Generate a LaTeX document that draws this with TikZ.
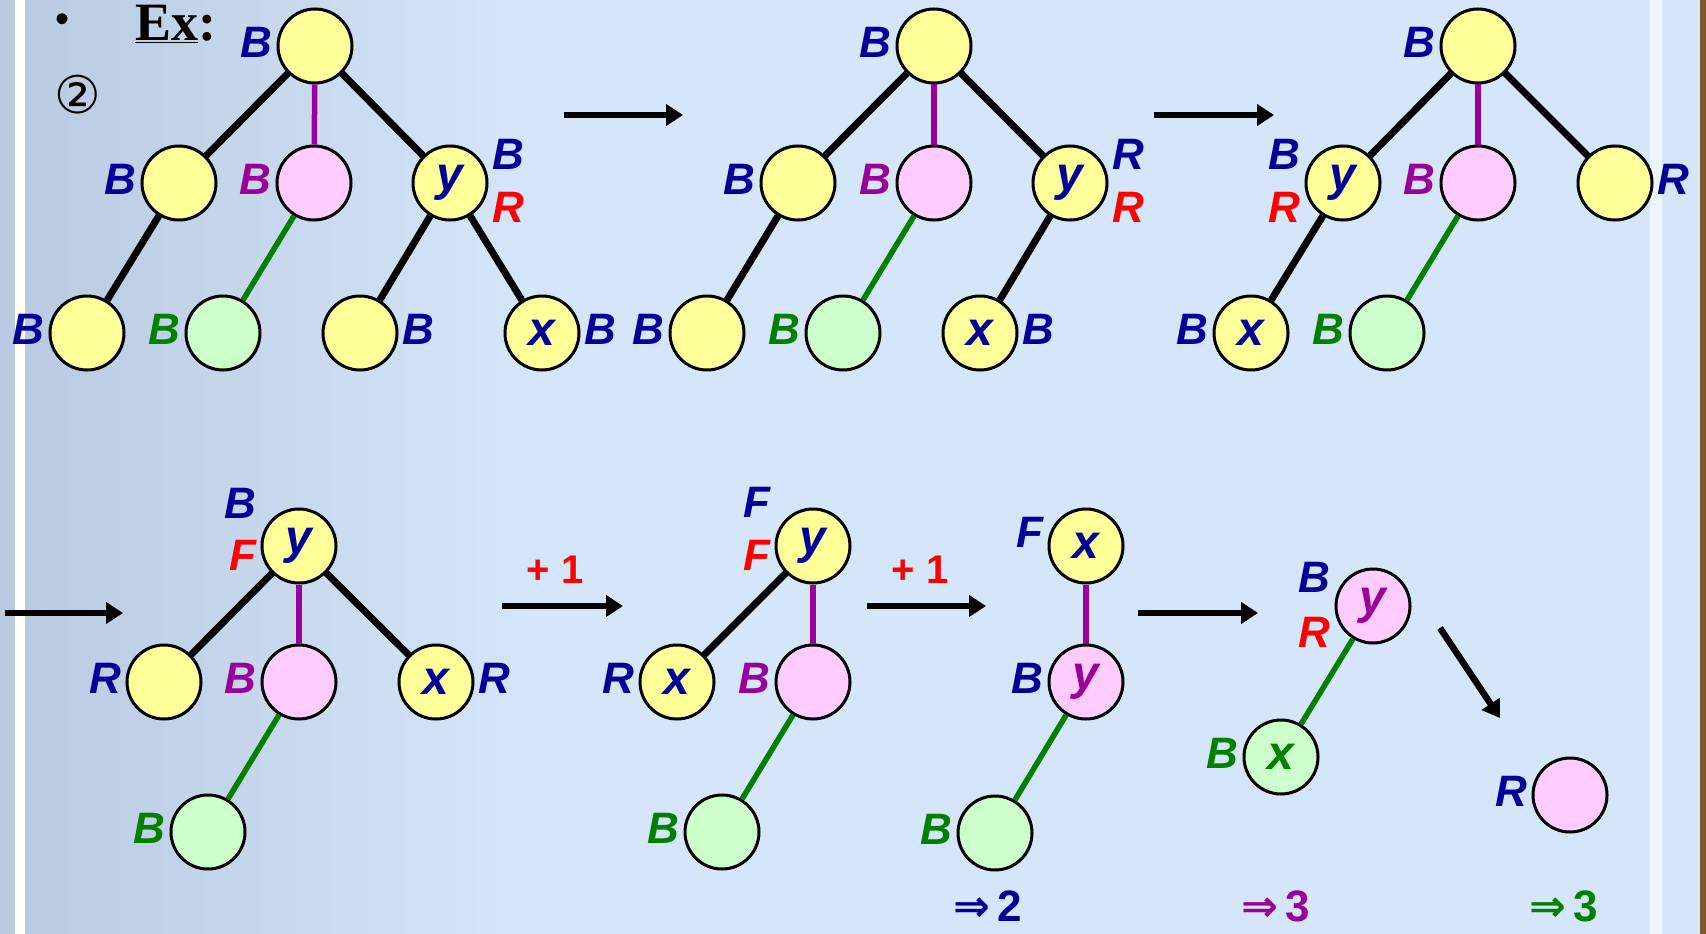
\documentclass[tikz,border=0pt]{standalone}
\usepackage{fontspec}
\setmainfont{Liberation Sans}
\newfontfamily\tiempos{Liberation Serif}
\newfontfamily\simbolos{DejaVu Sans}
\usepackage{tikz}
\usetikzlibrary{positioning,arrows.meta}
\definecolor{fondo}{RGB}{213,229,250}
\definecolor{columna}{RGB}{184,202,224}
\definecolor{amarillo}{RGB}{255,255,153}
\definecolor{rosado}{RGB}{255,204,255}
\definecolor{verdeclaro}{RGB}{204,255,204}
\definecolor{azul}{RGB}{0,0,153}
\definecolor{rojo}{RGB}{255,0,0}
\definecolor{morado}{RGB}{153,0,153}
\definecolor{verde}{RGB}{0,128,0}
\definecolor{marco}{RGB}{122,90,40}

\begin{document}
\begin{tikzpicture}[x=1pt, y=-1pt, label distance=4pt,
    nodo/.style={circle, draw=black, line width=3pt, minimum size=74pt, inner sep=0pt,
                 font=\fontsize{48}{48}\selectfont\bfseries\itshape, text=azul},
    nodoam/.style={nodo, fill=amarillo},
    nodoro/.style={nodo, fill=rosado},
    nodove/.style={nodo, fill=verdeclaro},
    etq/.style={inner sep=0pt, yshift=4pt, text=#1,
                font=\fontsize{44}{44}\selectfont\bfseries\itshape},
    negra/.style={line width=7pt},
    lila/.style={line width=5.5pt, draw=morado},
    verd/.style={line width=5.5pt, draw=verde},
    flecha/.style={-{Triangle[length=17pt,width=21pt]}, line width=6.5pt},
    mas/.style={text=rojo, font=\fontsize{40}{40}\selectfont\bfseries},
    total/.style={text=#1, inner sep=0pt, font=\fontsize{44}{44}\selectfont\bfseries}]
  \useasboundingbox (0,0) rectangle (1706,934);
  % fondo de la diapositiva
  \fill[fondo] (0,0) rectangle (1706,934);
  \shade[left color=columna, right color=fondo] (0,0) rectangle (520,934);
  \fill[white] (15,0) rectangle (25,934);
  \fill[white!60!fondo] (1650,0) rectangle (1662,934);
  \fill[marco] (1700,0) rectangle (1706,934);
  % encabezado
  \node (punto) at (63,23) {\fontsize{40}{40}\selectfont •};
  \node[anchor=base west, inner sep=0pt] (ej) at (135,41)
       {\tiempos\fontsize{54}{54}\selectfont\bfseries\underline{Ex}:};
  \node (dos) at (78,95) {\simbolos\fontsize{52}{52}\selectfont ②};
  % arbol 1
  \node[nodoam, label={[etq=azul]left:B}] (r1) at (315,46) {};
  \node[nodoam, label={[etq=azul]left:B}] (l1) at (179,183) {};
  \node[nodoro, label={[etq=morado]left:B}] (p1) at (314,183) {};
  \node[nodoam, label={[etq=azul, yshift=25pt]right:B},
        label={[etq=rojo, yshift=-28pt]right:R}] (y1) at (450,183) {y};
  \node[nodoam, label={[etq=azul]left:B}] (ll1) at (87,333) {};
  \node[nodove, label={[etq=verde]left:B}] (g1) at (223,333) {};
  \node[nodoam, label={[etq=azul]right:B}] (yl1) at (360,333) {};
  \node[nodoam, label={[etq=azul]right:B}] (x1) at (542,333) {x};
  \draw[negra] (r1) -- (l1);
  \draw[lila] (r1) -- (p1);
  \draw[negra] (r1) -- (y1);
  \draw[negra] (l1) -- (ll1);
  \draw[verd] (p1) -- (g1);
  \draw[negra] (y1) -- (yl1);
  \draw[negra] (y1) -- (x1);
  % arbol 2
  \node[nodoam, label={[etq=azul]left:B}] (r2) at (934,46) {};
  \node[nodoam, label={[etq=azul]left:B}] (l2) at (798,183) {};
  \node[nodoro, label={[etq=morado]left:B}] (p2) at (934,183) {};
  \node[nodoam, label={[etq=azul, yshift=25pt]right:R},
        label={[etq=rojo, yshift=-28pt]right:R}] (y2) at (1070,183) {y};
  \node[nodoam, label={[etq=azul]left:B}] (ll2) at (707,333) {};
  \node[nodove, label={[etq=verde]left:B}] (g2) at (843,333) {};
  \node[nodoam, label={[etq=azul]right:B}] (x2) at (980,333) {x};
  \draw[negra] (r2) -- (l2);
  \draw[lila] (r2) -- (p2);
  \draw[negra] (r2) -- (y2);
  \draw[negra] (l2) -- (ll2);
  \draw[verd] (p2) -- (g2);
  \draw[negra] (y2) -- (x2);
  % arbol 3
  \node[nodoam, label={[etq=azul]left:B}] (r3) at (1478,46) {};
  \node[nodoam, label={[etq=azul, yshift=25pt]left:B},
        label={[etq=rojo, yshift=-28pt]left:R}] (y3) at (1343,183) {y};
  \node[nodoro, label={[etq=morado]left:B}] (p3) at (1478,183) {};
  \node[nodoam, label={[etq=azul]right:R}] (d3) at (1615,183) {};
  \node[nodoam, label={[etq=azul]left:B}] (x3) at (1251,333) {x};
  \node[nodove, label={[etq=verde]left:B}] (g3) at (1387,333) {};
  \draw[negra] (r3) -- (y3);
  \draw[lila] (r3) -- (p3);
  \draw[negra] (r3) -- (d3);
  \draw[negra] (y3) -- (x3);
  \draw[verd] (p3) -- (g3);
  % arbol 4
  \node[nodoam, label={[etq=azul, yshift=39pt]left:B},
        label={[etq=rojo, yshift=-13pt]left:F}] (y4) at (299,546) {y};
  \node[nodoam, label={[etq=azul]left:R}] (i4) at (164,682) {};
  \node[nodoro, label={[etq=morado]left:B}] (p4) at (299,682) {};
  \node[nodoam, label={[etq=azul]right:R}] (x4) at (436,682) {x};
  \node[nodove, label={[etq=verde]left:B}] (g4) at (208,832) {};
  \draw[negra] (y4) -- (i4);
  \draw[lila] (y4) -- (p4);
  \draw[negra] (y4) -- (x4);
  \draw[verd] (p4) -- (g4);
  % arbol 5
  \node[nodoam, label={[etq=azul, yshift=40pt]left:F},
        label={[etq=rojo, yshift=-13pt]left:F}] (y5) at (813,546) {y};
  \node[nodoam, label={[etq=azul]left:R}] (x5) at (677,682) {x};
  \node[nodoro, label={[etq=morado]left:B}] (p5) at (813,682) {};
  \node[nodove, label={[etq=verde]left:B}] (g5) at (722,832) {};
  \draw[negra] (y5) -- (x5);
  \draw[lila] (y5) -- (p5);
  \draw[verd] (p5) -- (g5);
  % arbol 6
  \node[nodoam, label={[etq=azul, yshift=10pt]left:F}] (x6) at (1086,546) {x};
  \node[nodoro, text=morado, label={[etq=azul]left:B}] (y6) at (1086,682) {y};
  \node[nodove, label={[etq=verde]left:B}] (g6) at (995,833) {};
  \draw[lila] (x6) -- (y6);
  \draw[verd] (y6) -- (g6);
  % arbol 7
  \node[nodoro, text=morado, label={[etq=azul, yshift=25pt]left:B},
        label={[etq=rojo, yshift=-30pt]left:R}] (y7) at (1373,606) {y};
  \node[nodove, text=verde, label={[etq=verde]left:B}] (x7) at (1281,757) {x};
  \draw[verd] (y7) -- (x7);
  \node[nodoro, label={[etq=azul]left:R}] (r8) at (1570,795) {};
  % flechas
  \coordinate (a1i) at (564,115);  \coordinate (a1f) at (683,115);
  \coordinate (a2i) at (1154,115); \coordinate (a2f) at (1274,115);
  \coordinate (a3i) at (5,613);    \coordinate (a3f) at (123,613);
  \coordinate (a4i) at (502,606);  \coordinate (a4f) at (623,606);
  \coordinate (a5i) at (867,606);  \coordinate (a5f) at (986,606);
  \coordinate (a6i) at (1138,613); \coordinate (a6f) at (1258,613);
  \coordinate (a7i) at (1440,628); \coordinate (a7f) at (1500,718);
  \draw[flecha] (a1i) -- (a1f);
  \draw[flecha] (a2i) -- (a2f);
  \draw[flecha] (a3i) -- (a3f);
  \draw[flecha] (a4i) -- (a4f);
  \draw[flecha] (a5i) -- (a5f);
  \draw[flecha] (a6i) -- (a6f);
  \draw[flecha] (a7i) -- (a7f);
  \node[mas] (m4) at (555,570) {+ 1};
  \node[mas] (m5) at (920,570) {+ 1};
  % resultados
  \node[total=azul] (t1) at (988,906) {{\simbolos ⇒}\,2};
  \node[total=morado] (t2) at (1276,906) {{\simbolos ⇒}\,3};
  \node[total=verde] (t3) at (1564,906) {{\simbolos ⇒}\,3};
\end{tikzpicture}
\end{document}
